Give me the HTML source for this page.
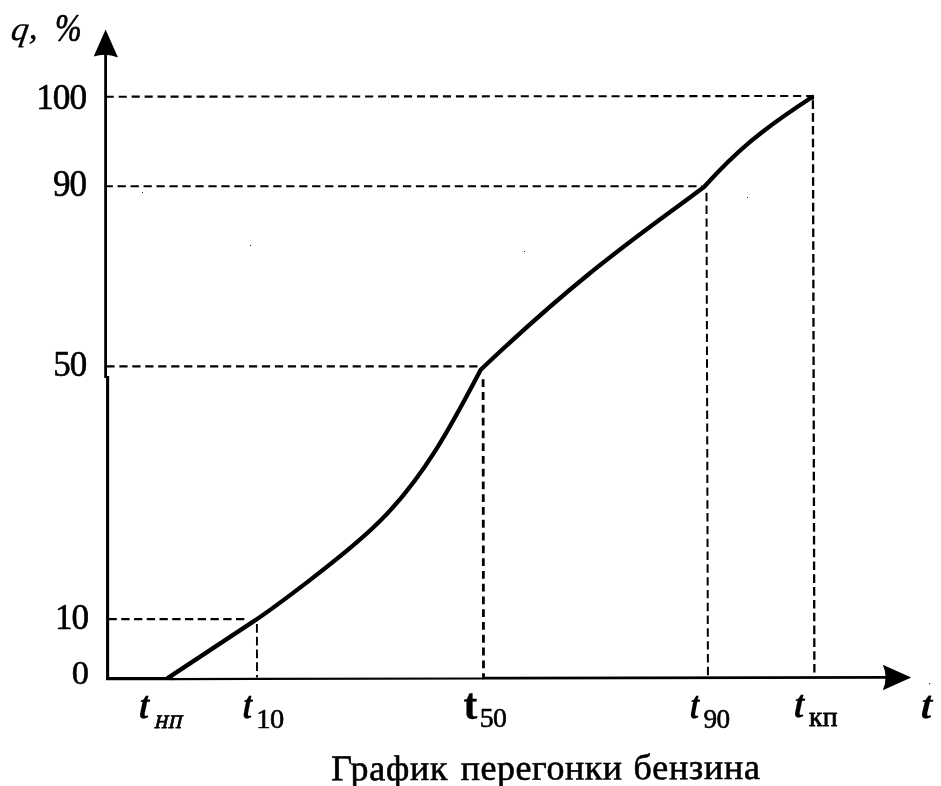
<!DOCTYPE html>
<html lang="ru">
<head>
<meta charset="utf-8">
<title>График перегонки бензина</title>
<style>
html,body{margin:0;padding:0;background:#fff;}
body{width:941px;height:786px;overflow:hidden;}
svg{display:block;}
text{font-family:"Liberation Serif",serif;fill:#000;stroke:#000;stroke-linejoin:round;}
.n{stroke-width:0.6px;}
.i{font-style:italic;stroke-width:0.6px;}
.t{font-style:italic;font-weight:bold;stroke-width:0.15px;}
.b{font-weight:bold;stroke-width:0.3px;}
.q{font-style:italic;stroke-width:0.35px;}
.s{stroke-width:0.8px;}
.cap{font-size:36px;stroke-width:0.6px;}
</style>
</head>
<body>
<svg width="941" height="786" viewBox="0 0 941 786">
<rect width="941" height="786" fill="#fff"/>
<!-- dashed guide lines -->
<g stroke="#000" fill="none">
<path d="M105.7 96.7L813.9 96" stroke-width="2.1" stroke-dasharray="8.1 4.87"/>
<path d="M104.6 186.3H702" stroke-width="1.9" stroke-dasharray="8.3 4.67"/>
<path d="M106.4 366.4H479" stroke-width="2.2" stroke-dasharray="8.2 4.76"/>
<path d="M108.5 619.1H247" stroke-width="2.1" stroke-dasharray="8.3 4.45"/>
<path d="M256.9 624L257 677.5" stroke-width="1.9" stroke-dasharray="8.8 3.95"/>
<path d="M483.1 379.3L483.5 677.5" stroke-width="2.8" stroke-dasharray="7.8 4.977"/>
<path d="M706.5 192.8L707.95 677.5" stroke-width="2" stroke-dasharray="8.4 4.411"/>
<path d="M812.9 100.3L814.4 677.5" stroke-width="2.3" stroke-dasharray="8.6 4.211"/>
</g>
<!-- axes -->
<g stroke="#000" fill="none">
<path d="M105.6 52V378" stroke-width="2.8"/>
<path d="M107.6 376V680" stroke-width="3.1"/>
<path d="M106.1 678.6H173" stroke-width="3.2"/>
<path d="M172 679.05L483.5 678.5" stroke-width="2.2"/>
<path d="M482.5 678.15L888 677.4" stroke-width="2.85"/>
</g>
<path d="M105.6 29.5L118 57.6Q106 52.5 93.7 56.6Z" fill="#000"/>
<path d="M911.2 677.4L882.8 664.8Q888.5 677.4 882.8 690.2Z" fill="#000"/>
<!-- distillation curve -->
<path d="M167.3 678.4L254.7 620.6C263.0 615.1 343.2 557.9 380.0 521.1C425.3 475.8 453.7 421.1 480.7 369.8C585.8 269.9 640.0 235.0 704.0 187.0C737.6 150.0 761.4 130.1 813.4 96.3" stroke="#000" stroke-width="4.3" fill="none" stroke-linejoin="round"/>
<path d="M806 95.1H814V99.5L809 100Z" fill="#000"/>
<g fill="#222">
<rect x="929" y="683" width="1.2" height="1.2"/>
<rect x="142" y="192" width="1" height="1"/>
<rect x="250" y="245" width="1" height="1"/>
<rect x="747" y="197" width="1" height="1"/>
<rect x="524" y="251" width="1" height="1"/>
</g>
<!-- labels -->
<text transform="translate(9.93 39.68) scale(1.012 0.989) skewX(-9)" font-size="34" class="q">q</text>
<text transform="translate(28.66 39.41) scale(1.036 1.016) " font-size="34" class="q">,</text>
<text transform="translate(54.95 40.93) scale(0.940 1.166) " font-size="34" class="i">%</text>
<text transform="translate(36.20 108.59) scale(0.980 1.018) " font-size="36" class="n" letter-spacing="-1">100</text>
<text transform="translate(53.07 196.47) scale(0.974 1.059) " font-size="36" class="n" letter-spacing="-1">90</text>
<text transform="translate(53.20 375.61) scale(0.971 0.982) " font-size="36" class="n" letter-spacing="-1">50</text>
<text transform="translate(54.92 629.49) scale(0.976 1.014) " font-size="36" class="n" letter-spacing="-1">10</text>
<text transform="translate(71.84 684.22) scale(0.956 0.962) " font-size="36" class="n">0</text>
<text transform="translate(138.65 718.38) scale(0.898 1.041) skewX(-4)" font-size="38" class="t">t</text>
<text transform="translate(154.00 727.76) scale(0.879 0.978) skewX(-14)" font-size="28" class="s" letter-spacing="1">нп</text>
<text transform="translate(242.56 718.38) scale(0.827 1.041) skewX(-4)" font-size="38" class="t">t</text>
<text transform="translate(256.32 727.52) scale(1.014 0.964) " font-size="28" class="n" letter-spacing="-0.6">10</text>
<text transform="translate(463.52 718.59) scale(0.960 1.018) " font-size="43" class="b">t</text>
<text transform="translate(479.66 727.12) scale(0.994 0.954) " font-size="28" class="n" letter-spacing="-0.6">50</text>
<text transform="translate(689.79 718.38) scale(0.809 1.041) skewX(-4)" font-size="38" class="t">t</text>
<text transform="translate(703.51 727.50) scale(0.973 1.005) " font-size="28" class="n" letter-spacing="-0.6">90</text>
<text transform="translate(793.65 717.38) scale(0.898 1.041) skewX(-4)" font-size="38" class="t">t</text>
<text transform="translate(809.00 725.86) scale(0.986 0.963) " font-size="28" class="s" letter-spacing="0.3">кп</text>
<text transform="translate(920.39 718.48) scale(1.004 1.045) skewX(-4)" font-size="38" class="t">t</text>
<g transform="rotate(-0.2 545 780)">
<text x="331.2" y="779.6" class="cap" letter-spacing="0.74">График</text>
<text x="460.8" y="779.6" class="cap" letter-spacing="0.5">перегонки</text>
<text x="633.6" y="779.6" class="cap" letter-spacing="0.78">бензина</text>
</g>
</svg>
</body>
</html>
